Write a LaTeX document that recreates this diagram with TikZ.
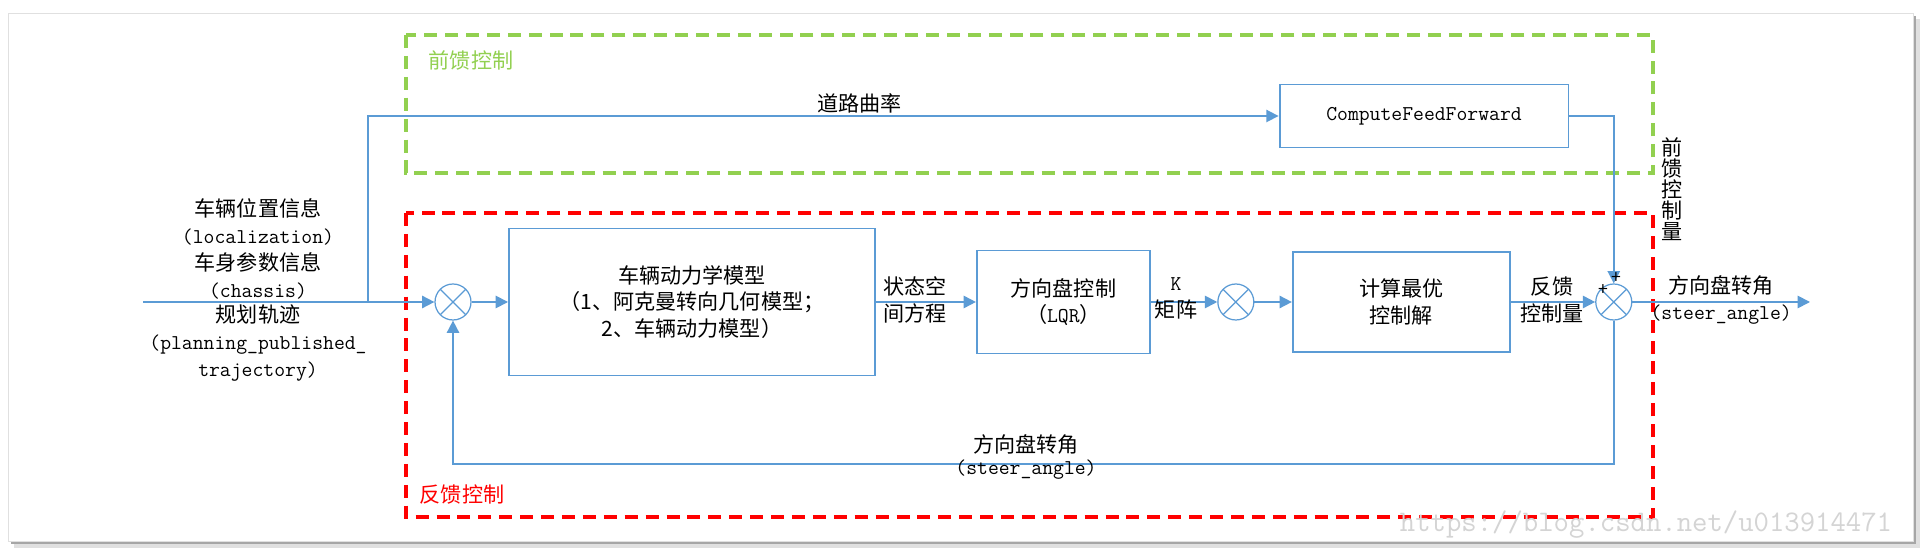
\documentclass[tikz,border=0pt]{standalone}
\usepackage{fontspec}
\setmainfont{Noto Sans CJK SC}
\usetikzlibrary{positioning, arrows.meta}
\definecolor{lineblue}{RGB}{91,155,213}
\definecolor{ffgreen}{RGB}{146,208,80}
\tikzset{
	node distance=3cm, % centre to centre, changed per node below
	block/.style={draw=lineblue, line width=1.1pt, align=center, inner sep=2pt, font=\fontsize{12}{15.3}\selectfont}, % plain boxes
	sumj/.style={circle, draw=lineblue, line width=0.7pt, minimum size=0.72cm, inner sep=0pt,
		path picture={\draw[lineblue, line width=0.7pt] (path picture bounding box.north west) -- (path picture bounding box.south east)
			(path picture bounding box.north east) -- (path picture bounding box.south west);}}, % crossed circles
	flow/.style={lineblue, line width=1pt, -{Triangle[length=7pt, width=7pt]}},
	lbl/.style={align=center, inner sep=0pt, text=black, font=\fontsize{12}{15.3}\selectfont},
	region/.style={line width=1.8pt, dash pattern=on 7.4pt off 4.5pt},
}
\begin{document}
\begin{tikzpicture}[x=0.02cm, y=-0.02cm]
	\useasboundingbox (0,0) rectangle (1927,553);
	% frame with shadow
	\fill[black!12] (14,19) rectangle (1920,548);
	\fill[black!35] (11,16) rectangle (1916,544);
	\draw[black!12, fill=white] (8,13) rectangle (1913,541);
	% dashed regions
	\draw[region, ffgreen] (406,35) rectangle (1653,173);
	\draw[region, red] (406,213) rectangle (1653,517);
	\node[lbl, text=ffgreen] (fflabel) at (471,60) {前馈控制};
	\node[lbl, text=red] (fblabel) at (462,495) {反馈控制};
	% main chain
	\node[sumj] (s1) at (453,302) {};
	\node[block, minimum width=7.32cm, minimum height=2.94cm, right of=s1, node distance=4.78cm] (dyn) {车辆动力学模型\\（1、阿克曼转向几何模型；\\2、车辆动力模型）};
	\node[block, minimum width=3.46cm, minimum height=2.06cm, right of=dyn, node distance=7.43cm] (lqr) {方向盘控制\\（{\ttfamily LQR}）};
	\node[sumj, right of=lqr, node distance=3.45cm] (s2) {};
	\node[block, minimum width=4.34cm, minimum height=2cm, right of=s2, node distance=3.31cm] (calc) {计算最优\\控制解};
	\node[sumj, right of=calc, node distance=4.25cm] (s3) {};
	\node[block, minimum width=5.78cm, minimum height=1.26cm] (ff) at (1424,116) {\ttfamily ComputeFeedForward};
	\coordinate (in) at (143,302);
	\coordinate (br) at (368,302);
	\coordinate (out) at (1810,302);
	\coordinate (fb) at (1026,464);
	% inputs
	\node[lbl] (info) at (258,249) {车辆位置信息\\{\ttfamily (localization)}\\车身参数信息\\{\ttfamily (chassis)}};
	\node[lbl] (plan) at (258,343) {规划轨迹\\{\ttfamily (planning\_published\_}\\{\ttfamily trajectory)}};
	% connectors
	\draw[flow] (in) -- (s1);
	\draw[flow] (br) |- node[lbl, pos=0.77, above=1pt] (curv) {道路曲率} (ff);
	\draw[flow] (s1) -- (dyn);
	\draw[flow] (dyn) -- (lqr);
	\draw[flow] (lqr) -- (s2);
	\draw[flow] (s2) -- (calc);
	\draw[flow] (calc) -- (s3);
	\draw[flow] (ff) -| (s3);
	\draw[flow] (s3) -- (out)
		node[lbl, midway, above=3pt] (angA) {方向盘转角}
		node[lbl, midway, below=1pt] (angB) {\ttfamily (steer\_angle)};
	\draw[flow] (s3) |- (fb) -| (s1);
	% labels on the lines
	\node[lbl] (state) at (915,300) {状态空\\间方程};
	\node[lbl] (kmat) at (1176,298) {{\ttfamily K}\\矩阵};
	\node[lbl] (fbout) at (1552,300) {反馈\\控制量};
	\node[lbl, font=\fontsize{12}{10.4}\selectfont] (ffout) at (1672,189) {前\\馈\\控\\制\\量};
	\node[lbl] (fbangA) at (1026,444) {方向盘转角};
	\node[lbl] (fbangB) at (1026,470) {\ttfamily (steer\_angle)};
	\node[inner sep=0pt, font=\fontsize{10}{10}\selectfont] (plusA) at (1603,290) {+};
	\node[inner sep=0pt, font=\fontsize{10}{10}\selectfont] (plusB) at (1616,278) {+};
	% watermark
	\node[inner sep=0pt, text=black!17, font=\fontsize{17}{17}\selectfont\ttfamily] (mark) at (1646,525) {https://blog.csdn.net/u013914471};
\end{tikzpicture}
\end{document}
